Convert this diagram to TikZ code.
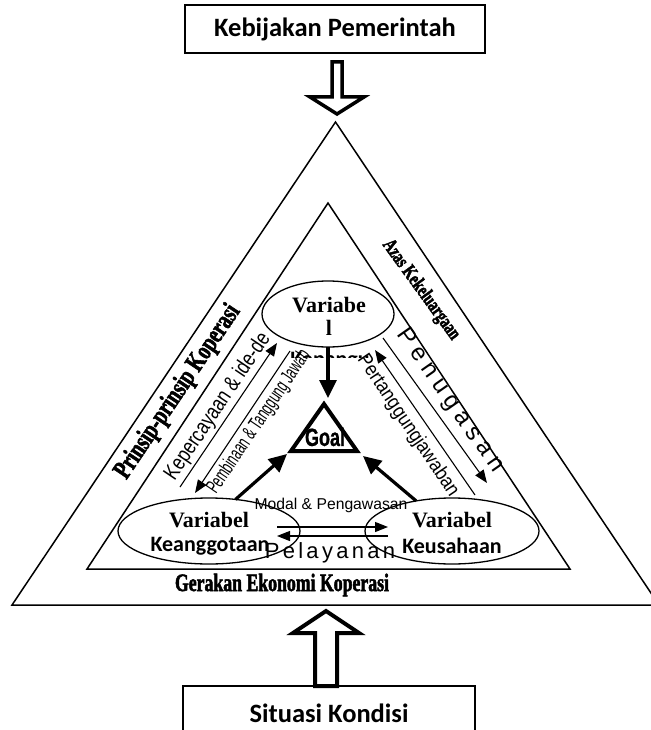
\documentclass[tikz,border=0pt]{standalone}
\usepackage{fontspec}
\setmainfont{Liberation Serif}
\newfontfamily\calib{Carlito}
\newfontfamily\arl{Liberation Sans}
\newfontfamily\kepf{Liberation Sans}[FakeStretch=0.79]
\newfontfamily\arlnar{Liberation Sans}[FakeStretch=0.61]
\newfontfamily\arlnarb{Liberation Sans}[FakeStretch=0.88]
\newfontfamily\goalf{Liberation Sans}[FakeStretch=0.72,FakeBold=0.8]
\newfontfamily\arlsp{Liberation Sans}[LetterSpace=15]
\newfontfamily\arlsptwo{Liberation Sans}[LetterSpace=25]
\newfontfamily\tms{Liberation Serif}
\newfontfamily\tmsheavy{Liberation Serif}[FakeStretch=0.71,FakeBold=2]
\usetikzlibrary{arrows.meta,shapes.geometric}
\begin{document}
\begin{tikzpicture}[x=1pt,y=-1pt,
  box/.style={draw,line width=1.3pt,inner sep=0pt,outer sep=0pt},
  oval/.style={draw,ellipse,line width=1.3pt,inner sep=0pt,outer sep=0pt},
  thinarrow/.style={line width=1.1pt,-{Triangle[length=13pt,width=10pt]}},
  bigarrow/.style={line width=3.2pt,-{Triangle[length=18pt,width=17pt]}},
  blockarrow/.style={draw,line width=3.5pt,fill=white,line join=miter},
  tri/.style={draw,line width=1.5pt,line join=miter},
  lbl/.style={inner sep=0pt,outer sep=0pt}]
\useasboundingbox (0,0) rectangle (650,730);
\fill[white] (0,0) rectangle (650,730);

% triangles
\draw[tri] (335.5,122) -- (12,605) -- (659,605) -- cycle;
\draw[tri] (328,203) -- (87,569) -- (570,569) -- cycle;

% boxes
\node[box, minimum width=300pt, minimum height=48pt, font=\calib\bfseries\fontsize{26.5}{30}\selectfont] (kp) at (335,29) {Kebijakan Pemerintah};
\node[box, minimum width=292pt, minimum height=54pt, font=\calib\bfseries\fontsize{26.5}{30}\selectfont] (sk) at (329,713) {Situasi Kondisi};

% block arrows
\draw[blockarrow] (332,62) -- (342,62) -- (342,97) -- (364,97) -- (337,114) -- (310,97) -- (332,97) -- cycle;
\draw[blockarrow, line width=4pt] (315,686) -- (315,633) -- (293,633) -- (326,611) -- (359,633) -- (337,633) -- (337,686) -- cycle;

% ellipses
\node[oval, minimum width=132pt, minimum height=66pt] (T) at (328,314) {};
\node[oval, minimum width=182pt, minimum height=66pt] (L) at (209,531) {};
\node[oval, minimum width=174pt, minimum height=66pt] (R) at (452,531) {};

\node[lbl, font=\tms\bfseries\fontsize{22}{24}\selectfont] (t1) at (329,305) {Variabe};
\node[lbl, font=\tms\bfseries\fontsize{22}{24}\selectfont] (t2) at (329,328) {l};
\begin{scope}
\clip (280,345) rectangle (380,357);
\node[lbl, anchor=base, font=\calib\bfseries\fontsize{22}{24}\selectfont] (t3) at (330,366) {Kepangu};
\end{scope}

\node[lbl, font=\tms\bfseries\fontsize{22}{24}\selectfont] (l1) at (209,520) {Variabel};
\node[lbl, font=\calib\bfseries\fontsize{22}{24}\selectfont] (l2) at (210,546) {Keanggotaan};
\node[lbl, font=\tms\bfseries\fontsize{22}{24}\selectfont] (r1) at (452,520) {Variabel};
\node[lbl, font=\calib\bfseries\fontsize{22}{24}\selectfont] (r2) at (452,546) {Keusahaan};

% goal
\draw[line width=4pt, line join=miter] (324,404) -- (291,451) -- (357,451) -- cycle;
\node[lbl, font=\goalf\bfseries\fontsize{25}{27}\selectfont] (goal) at (325,437) {Goal};

\coordinate (gt) at (328,398);
\coordinate (gl) at (287,454);
\coordinate (gr) at (363,456);
\draw[bigarrow] (T.south) -- (gt);
\draw[bigarrow] (L.50) -- (gl);
\draw[bigarrow] (R.140) -- (gr);

% thin arrows
\coordinate (a1s) at (180,487); \coordinate (a1e) at (277,343);
\coordinate (a2s) at (290,351); \coordinate (a2e) at (195,493);
\coordinate (a3s) at (475,495); \coordinate (a3e) at (375,350);
\coordinate (a4s) at (383,338); \coordinate (a4e) at (487,483);
\coordinate (h1s) at (277,527); \coordinate (h1e) at (388,527);
\coordinate (h2s) at (388,536); \coordinate (h2e) at (277,536);
\draw[thinarrow] (a1s) -- (a1e);
\draw[thinarrow] (a2s) -- (a2e);
\draw[thinarrow] (a3s) -- (a3e);
\draw[thinarrow] (a4s) -- (a4e);
\draw[thinarrow] (h1s) -- (h1e);
\draw[thinarrow] (h2s) -- (h2e);

% labels
\node[lbl, rotate=56, font=\kepf\fontsize{22}{24}\selectfont] (kep) at (218,407) {Kepercayaan \& ide-de};
\node[lbl, rotate=56, font=\arlnar\fontsize{20}{22}\selectfont] (pem) at (259,422) {Pembinaan \& Tanggung Jawab};
\node[lbl, rotate=-56, font=\arlnarb\fontsize{20}{22}\selectfont] (per) at (408,426) {Pertanggungjawaban};
\node[lbl, rotate=-55, font=\arlsptwo\fontsize{24}{26}\selectfont] (pen) at (450,401) {Penugasan};
\node[lbl, rotate=56, font=\tmsheavy\bfseries\fontsize{27}{29}\selectfont] (pk) at (178,392) {Prinsip-prinsip Koperasi};
\node[lbl, rotate=-54, font=\tmsheavy\bfseries\fontsize{20}{22}\selectfont] (ak) at (421,290) {Azas Kekeluargaan};
\node[lbl, font=\tmsheavy\bfseries\fontsize{25}{27}\selectfont] (gek) at (282,585) {Gerakan Ekonomi Koperasi};
\node[lbl, font=\arl\fontsize{15.7}{18}\selectfont] (mod) at (331,505) {Modal \& Pengawasan};
\node[lbl, font=\arlsp\fontsize{22}{24}\selectfont] (pel) at (330,553) {Pelayanan};
\end{tikzpicture}
\end{document}
